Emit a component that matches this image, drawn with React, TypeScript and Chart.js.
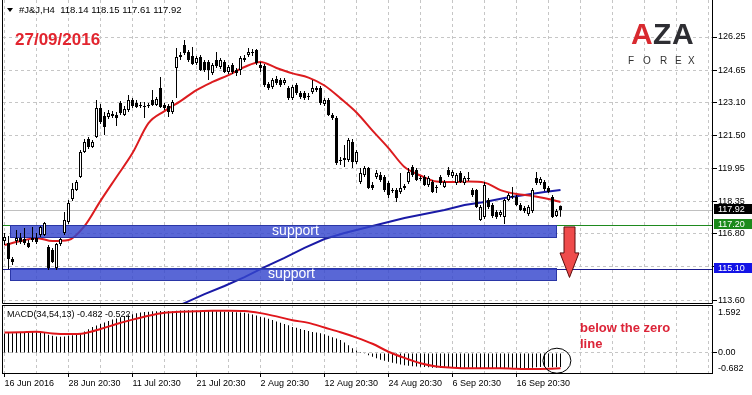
import React, { useEffect, useRef } from "react";
import { Chart, registerables } from "chart.js";

Chart.register(...registerables);

const FONT = '"Liberation Sans", Arial, Helvetica, sans-serif';

// ---------------- texts ----------------
const symbolTitle = "#J&J,H4";
const lastOHLC = ["118.14", "118.15", "117.61", "117.92"];
const dateNote = "27/09/2016";
const macdTitle = "MACD(34,54,13) -0.482 -0.522";
const noteLines = ["below the zero", "line"];
const supportLabel = "support";
const logoLetters = ["A", "Z", "A"];
const logoSub = ["F", "O", "R", "E", "X"];

// ---------------- axis labels ----------------
const timeLabels = [
  "16 Jun 2016",
  "28 Jun 20:30",
  "11 Jul 20:30",
  "21 Jul 20:30",
  "2 Aug 20:30",
  "12 Aug 20:30",
  "24 Aug 20:30",
  "6 Sep 20:30",
  "16 Sep 20:30",
];
const priceTicks = [113.6, 115.2, 116.8, 118.35, 119.95, 121.5, 123.1, 124.65, 126.25];
const priceTickText = ["113.60", "", "116.80", "118.35", "119.95", "121.50", "123.10", "124.65", "126.25"];
const macdTicks = [-0.682, 0, 1.592];
const macdTickText = ["-0.682", "0.00", "1.592"];

// ---------------- candles (H4 bars) ----------------
const openP = [
  116.44, 116.35, 115.58, 116.44, 116.59, 116.54, 116.35, 116.49, 116.59, 116.73,
  116.73, 116.15, 116.01, 115.14, 116.30, 116.83, 117.36, 118.46, 118.89, 119.52,
  120.72, 121.35, 120.96, 121.44, 122.84, 122.45, 122.40, 122.55, 122.50, 123.08,
  122.50, 122.74, 123.22, 123.08, 122.93, 122.93, 122.93, 123.22, 122.98, 123.80,
  122.98, 122.93, 122.64, 124.76, 125.29, 125.86, 125.53, 125.34, 125.00, 125.29,
  125.05, 125.05, 124.52, 125.14, 124.81, 125.05, 124.57, 124.90, 124.66, 124.66,
  125.14, 125.38, 125.53, 125.63, 124.90, 124.86, 123.99, 123.85, 124.23, 124.18,
  124.04, 123.80, 123.32, 123.94, 123.56, 123.56, 123.37, 123.61, 123.80, 123.80,
  123.03, 123.22, 122.50, 122.36, 120.34, 120.43, 120.34, 121.20, 120.24, 119.28,
  119.62, 119.95, 119.13, 119.52, 119.62, 119.52, 119.23, 118.89, 118.89, 118.80,
  118.99, 119.28, 120.00, 119.86, 119.47, 119.52, 119.13, 119.28, 119.04, 119.52,
  119.04, 119.86, 119.57, 119.23, 119.71, 119.23, 119.47, 118.89, 118.89, 117.45,
  117.60, 118.41, 118.17, 117.84, 117.69, 117.60, 118.41, 118.56, 118.56, 118.17,
  118.03, 117.74, 117.89, 119.47, 119.23, 119.28, 118.99, 118.56, 117.64, 118.14,
];
const highP = [
  116.83, 116.68, 115.67, 116.97, 116.83, 117.07, 116.49, 117.12, 116.83, 117.16,
  117.36, 116.25, 116.11, 116.35, 116.59, 117.84, 118.41, 119.23, 119.38, 120.82,
  121.35, 121.44, 121.30, 123.22, 123.03, 122.64, 122.74, 122.69, 122.64, 123.17,
  122.93, 123.46, 123.32, 123.22, 123.13, 123.13, 123.08, 123.70, 123.37, 124.33,
  123.08, 123.03, 123.22, 125.72, 125.53, 126.11, 125.63, 125.77, 125.34, 125.38,
  125.14, 125.14, 125.00, 125.53, 125.24, 125.14, 124.90, 125.00, 124.76, 125.34,
  125.38, 125.72, 125.67, 125.67, 125.05, 124.95, 124.09, 124.28, 124.38, 124.28,
  124.28, 123.89, 123.94, 124.04, 123.65, 123.65, 123.56, 124.18, 123.89, 123.89,
  123.32, 123.32, 122.60, 122.45, 120.48, 121.06, 121.39, 121.35, 120.82, 119.95,
  120.05, 120.00, 119.28, 119.86, 119.76, 119.62, 119.33, 118.99, 118.99, 119.71,
  119.18, 119.95, 120.10, 119.95, 119.57, 119.62, 119.57, 119.38, 119.13, 119.62,
  119.38, 120.00, 119.86, 119.71, 119.81, 119.57, 119.76, 118.99, 118.94, 118.17,
  119.28, 118.51, 118.27, 117.93, 117.93, 118.46, 118.75, 119.04, 118.65, 118.27,
  118.13, 118.17, 118.99, 119.76, 119.52, 119.38, 119.09, 118.65, 117.98, 118.15,
];
const lowP = [
  116.25, 115.10, 115.29, 116.25, 116.30, 116.25, 116.11, 116.39, 116.30, 116.63,
  116.68, 115.05, 115.38, 115.05, 116.20, 116.73, 117.26, 118.37, 118.85, 119.47,
  120.67, 120.87, 120.91, 121.39, 122.07, 121.54, 122.31, 122.36, 121.97, 122.50,
  122.45, 122.64, 122.84, 122.84, 122.84, 122.36, 122.84, 122.93, 122.93, 122.84,
  122.74, 122.40, 122.55, 123.32, 125.14, 125.38, 125.05, 124.90, 124.90, 124.62,
  124.57, 124.18, 124.42, 124.76, 124.71, 124.52, 124.47, 124.47, 124.38, 124.42,
  125.05, 125.29, 125.34, 124.90, 124.57, 123.85, 123.70, 123.75, 123.94, 123.85,
  123.94, 123.22, 123.22, 123.46, 123.27, 123.22, 123.22, 123.51, 123.61, 122.98,
  122.93, 122.45, 122.26, 120.10, 120.10, 120.00, 120.24, 119.95, 120.14, 119.18,
  119.52, 118.94, 118.89, 119.42, 119.28, 118.80, 118.51, 118.75, 118.32, 118.70,
  118.89, 119.18, 119.52, 119.33, 119.33, 119.09, 119.04, 118.75, 118.75, 119.13,
  118.99, 119.52, 119.47, 119.13, 119.23, 119.13, 119.33, 118.56, 118.03, 117.40,
  117.50, 117.98, 117.55, 117.50, 117.60, 117.26, 118.37, 118.46, 118.13, 117.89,
  117.79, 117.64, 117.79, 119.13, 119.13, 118.85, 118.75, 117.55, 117.60, 117.61,
];
const closeP = [
  116.63, 115.58, 115.43, 116.59, 116.39, 116.35, 116.15, 116.59, 116.39, 117.12,
  117.31, 115.14, 115.43, 116.30, 116.54, 117.45, 118.27, 118.94, 119.28, 120.72,
  121.20, 120.96, 121.20, 122.84, 122.16, 121.92, 122.60, 122.45, 122.36, 122.60,
  122.79, 123.22, 122.93, 122.88, 122.98, 122.88, 122.98, 122.98, 123.27, 122.88,
  122.84, 122.64, 123.13, 125.29, 125.38, 125.48, 125.14, 124.95, 125.24, 124.66,
  124.66, 124.66, 124.90, 124.86, 125.14, 124.57, 124.81, 124.57, 124.52, 125.24,
  125.24, 125.53, 125.48, 125.00, 124.76, 123.94, 123.80, 124.18, 124.04, 123.94,
  124.18, 123.32, 123.85, 123.56, 123.37, 123.32, 123.41, 123.80, 123.70, 123.08,
  123.22, 122.50, 122.36, 120.19, 120.29, 120.34, 121.30, 120.24, 120.72, 119.71,
  119.95, 118.99, 118.99, 119.71, 119.38, 118.89, 118.65, 118.85, 118.51, 118.99,
  119.09, 119.76, 119.62, 119.38, 119.42, 119.13, 119.47, 118.80, 118.99, 119.23,
  119.28, 119.62, 119.76, 119.62, 119.28, 119.47, 119.42, 118.65, 118.08, 118.08,
  119.13, 118.08, 117.64, 117.60, 117.84, 118.41, 118.65, 118.61, 118.17, 117.93,
  117.89, 118.08, 118.89, 119.23, 119.42, 118.94, 118.80, 117.60, 117.89, 117.92,
];

// ---------------- moving averages (read at every 4th / 5th bar) ----------------
const maFastBars = [0, 4, 8, 12, 16, 20, 24, 28, 32, 36, 40, 44, 48, 52, 56, 60, 64, 68, 72, 76, 80, 84, 88, 92, 96, 100, 104, 108, 112, 116, 120, 124, 128, 132, 136, 139];
const maFastVals = [116.25, 116.44, 116.59, 116.44, 116.49, 117.16, 118.37, 119.52, 120.67, 122.11, 122.69, 123.17, 123.70, 124.09, 124.42, 124.81, 125.05, 124.76, 124.50, 124.30, 123.92, 123.30, 122.62, 121.75, 120.91, 120.00, 119.59, 119.30, 119.28, 119.30, 119.25, 118.89, 118.70, 118.61, 118.46, 118.32];
const maSlowBars = [40, 45, 50, 55, 60, 65, 70, 75, 80, 85, 90, 95, 100, 105, 110, 115, 120, 125, 130, 135, 139];
const maSlowVals = [113.03, 113.46, 113.89, 114.28, 114.71, 115.19, 115.63, 116.11, 116.54, 116.83, 117.07, 117.31, 117.55, 117.74, 117.93, 118.17, 118.32, 118.51, 118.65, 118.80, 118.89];

// ---------------- MACD ----------------
const macdHist = [
  0.66, 0.68, 0.67, 0.69, 0.70, 0.69, 0.70, 0.71, 0.70, 0.69,
  0.68, 0.62, 0.58, 0.56, 0.55, 0.56, 0.58, 0.60, 0.62, 0.66,
  0.73, 0.80, 0.88, 0.93, 0.98, 1.03, 1.08, 1.13, 1.17, 1.21,
  1.24, 1.28, 1.31, 1.35, 1.37, 1.39, 1.40, 1.41, 1.41, 1.42,
  1.42, 1.42, 1.41, 1.43, 1.44, 1.45, 1.45, 1.45, 1.44, 1.44,
  1.43, 1.42, 1.42, 1.41, 1.41, 1.40, 1.39, 1.39, 1.38, 1.37,
  1.36, 1.34, 1.30, 1.27, 1.23, 1.20, 1.16, 1.12, 1.07, 1.02,
  0.98, 0.94, 0.88, 0.85, 0.81, 0.78, 0.74, 0.71, 0.69, 0.67,
  0.63, 0.58, 0.53, 0.49, 0.44, 0.35, 0.26, 0.16, 0.08, 0.03,
  -0.03, -0.08, -0.13, -0.18, -0.23, -0.27, -0.30, -0.33, -0.36, -0.39,
  -0.42, -0.44, -0.45, -0.46, -0.47, -0.48, -0.49, -0.50, -0.50, -0.51,
  -0.51, -0.50, -0.50, -0.51, -0.51, -0.50, -0.50, -0.50, -0.51, -0.52,
  -0.52, -0.51, -0.51, -0.52, -0.52, -0.51, -0.50, -0.50, -0.51, -0.51,
  -0.51, -0.51, -0.50, -0.49, -0.48, -0.48, -0.48, -0.49, -0.49, -0.482,
];
const signalBars = [0, 4, 8, 12, 16, 20, 24, 28, 32, 36, 40, 44, 48, 52, 56, 60, 64, 68, 72, 76, 80, 84, 88, 92, 96, 100, 104, 108, 112, 116, 120, 124, 128, 132, 136, 139];
const signalVals = [0.69, 0.70, 0.72, 0.66, 0.64, 0.67, 0.81, 0.98, 1.13, 1.26, 1.36, 1.40, 1.41, 1.43, 1.43, 1.42, 1.35, 1.24, 1.11, 1.02, 0.86, 0.70, 0.52, 0.31, 0.04, -0.17, -0.35, -0.46, -0.50, -0.52, -0.52, -0.52, -0.54, -0.55, -0.54, -0.522];

// ---------------- levels & annotations ----------------
const levelBid = 117.92;
const levelGreen = 117.2;
const levelBlue = 115.1;
const supportZones = [
  { fromBar: 1.25, toBar: 138, top: 117.21, bottom: 116.59, textBar: 66.9 },
  { fromBar: 1.25, toBar: 138, top: 115.14, bottom: 114.52, textBar: 65.9 },
];
const arrowBar = 141.25;
const arrowFrom = 117.12;
const arrowNeck = 115.87;
const arrowTip = 114.69;
const circleBar = 138.1;
const circleVal = -0.265;

// ---------------- scale geometry ----------------
const X_MIN = -0.375;
const X_MAX = 177.125;
const PRICE_MIN = 113.462;
const PRICE_MAX = 128.029;
const MACD_MIN = -0.682;
const MACD_MAX = 1.626;
const gridBars = Array.from({ length: 23 }, (_, k) => k * 8);

const GRID = "#c6c6c6";

function xScale(showLabels: boolean) {
  return {
    type: "linear",
    min: X_MIN,
    max: X_MAX,
    bounds: "data",
    offset: false,
    afterBuildTicks: (s: any) => {
      s.ticks = gridBars.map((v) => ({ value: v }));
    },
    afterFit: (s: any) => {
      s.height = showLabels ? 22 : 0;
      s.paddingLeft = 0;
      s.paddingRight = 0;
    },
    border: { display: false, dash: [3, 3] },
    grid: {
      display: true,
      offset: false,
      drawOnChartArea: true,
      color: GRID,
      lineWidth: 1,
      drawTicks: showLabels,
      tickLength: 4,
      tickColor: (c: any) => {
        const v = c.tick ? c.tick.value : -1;
        return v % 16 === 0 && v / 16 < timeLabels.length ? "#000" : "rgba(0,0,0,0)";
      },
    },
    ticks: {
      display: showLabels,
      autoSkip: false,
      maxRotation: 0,
      minRotation: 0,
      align: "start",
      padding: 1,
      color: "#000",
      font: { family: FONT, size: 9 },
      callback: (v: number) => (v % 16 === 0 && timeLabels[v / 16] ? timeLabels[v / 16] : ""),
    },
  };
}

const mainDecor = {
  id: "mainDecor",
  beforeDatasetsDraw(chart: any) {
    const { ctx, chartArea: a, scales } = chart;
    const y = scales.y;
    ctx.save();
    const hline = (p: number, color: string) => {
      const py = Math.round(y.getPixelForValue(p)) + 0.5;
      ctx.strokeStyle = color;
      ctx.lineWidth = 1;
      ctx.beginPath();
      ctx.moveTo(a.left, py);
      ctx.lineTo(a.right, py);
      ctx.stroke();
    };
    hline(levelBid, "#c0c0c0");
    hline(levelGreen, "#1e8a1e");
    hline(levelBlue, "#1c1c8e");
    ctx.restore();
  },
  beforeDatasetDraw(chart: any, args: any) {
    if (args.index !== 2) return;
    const { ctx, scales } = chart;
    const x = scales.x;
    const y = scales.y;
    ctx.save();
    for (const z of supportZones) {
      const x1 = Math.round(x.getPixelForValue(z.fromBar));
      const x2 = Math.round(x.getPixelForValue(z.toBar));
      const y1 = Math.round(y.getPixelForValue(z.top));
      const y2 = Math.round(y.getPixelForValue(z.bottom));
      ctx.fillStyle = "rgba(52,70,205,0.82)";
      ctx.fillRect(x1, y1, x2 - x1, y2 - y1);
      ctx.strokeStyle = "#2a36a6";
      ctx.lineWidth = 1;
      ctx.strokeRect(x1 + 0.5, y1 + 0.5, x2 - x1 - 1, y2 - y1 - 1);
      ctx.fillStyle = "#ffffff";
      ctx.font = `14px ${FONT}`;
      ctx.textAlign = "left";
      ctx.textBaseline = "middle";
      ctx.fillText(supportLabel, x.getPixelForValue(z.textBar), (y1 + y2) / 2);
    }
    ctx.restore();
  },
  afterDraw(chart: any) {
    const { ctx, chartArea: a, scales } = chart;
    const x = scales.x;
    const y = scales.y;
    ctx.save();
    // frame
    ctx.strokeStyle = "#000";
    ctx.lineWidth = 1;
    ctx.beginPath();
    ctx.moveTo(a.left - 0.5, 0);
    ctx.lineTo(a.left - 0.5, a.bottom + 0.5);
    ctx.lineTo(a.right - 0.5, a.bottom + 0.5);
    ctx.lineTo(a.right - 0.5, 0);
    ctx.stroke();

    // header
    ctx.fillStyle = "#000";
    ctx.beginPath();
    ctx.moveTo(7, 8);
    ctx.lineTo(13, 8);
    ctx.lineTo(10, 12);
    ctx.closePath();
    ctx.fill();
    ctx.font = `9.5px ${FONT}`;
    ctx.textAlign = "left";
    ctx.textBaseline = "middle";
    ctx.fillText(`${symbolTitle}  ${lastOHLC.join(" ")}`, 19, 10.5);

    // date
    ctx.font = `bold 17px ${FONT}`;
    ctx.fillStyle = "#e2252f";
    ctx.textBaseline = "alphabetic";
    ctx.fillText(dateNote, 15, 45);

    // logo
    ctx.font = `bold 30px ${FONT}`;
    ctx.fillStyle = "#d8292f";
    ctx.fillText(logoLetters[0], 631, 44);
    ctx.fillStyle = "#2e2e33";
    ctx.fillText(logoLetters[1], 653, 44);
    ctx.fillText(logoLetters[2], 672, 44);
    ctx.font = `10px ${FONT}`;
    ctx.fillStyle = "#333";
    const subX = [628, 643, 660, 675, 688];
    logoSub.forEach((c, k) => ctx.fillText(c, subX[k], 64));

    // arrow
    const ax = x.getPixelForValue(arrowBar);
    const ay1 = y.getPixelForValue(arrowFrom);
    const ay2 = y.getPixelForValue(arrowNeck);
    const ay3 = y.getPixelForValue(arrowTip);
    ctx.beginPath();
    ctx.moveTo(ax - 5.5, ay1);
    ctx.lineTo(ax + 5.5, ay1);
    ctx.lineTo(ax + 5.5, ay2);
    ctx.lineTo(ax + 9.5, ay2);
    ctx.lineTo(ax, ay3);
    ctx.lineTo(ax - 9.5, ay2);
    ctx.lineTo(ax - 5.5, ay2);
    ctx.closePath();
    ctx.fillStyle = "#ef4b4b";
    ctx.fill();
    ctx.strokeStyle = "#5a0c0c";
    ctx.stroke();

    // price tags on the axis
    const tag = (p: number, bg: string) => {
      const py = Math.round(y.getPixelForValue(p)) - 1;
      ctx.fillStyle = bg;
      ctx.fillRect(a.right + 1, py - 5, 752 - a.right - 1, 10);
      ctx.fillStyle = "#fff";
      ctx.font = `9px ${FONT}`;
      ctx.textBaseline = "middle";
      ctx.textAlign = "left";
      ctx.fillText(p.toFixed(2), a.right + 5, py + 0.5);
    };
    tag(levelBid, "#000000");
    tag(levelGreen, "#1b8a1b");
    tag(levelBlue, "#1414e6");
    ctx.restore();
  },
};

const macdDecor = {
  id: "macdDecor",
  afterDraw(chart: any) {
    const { ctx, chartArea: a, scales } = chart;
    const x = scales.x;
    const y = scales.y;
    ctx.save();
    ctx.strokeStyle = "#000";
    ctx.lineWidth = 1;
    ctx.strokeRect(a.left - 0.5, a.top + 0.5, a.right - a.left, a.bottom - a.top);

    ctx.fillStyle = "#000";
    ctx.font = `9px ${FONT}`;
    ctx.textAlign = "left";
    ctx.textBaseline = "middle";
    ctx.fillText(macdTitle, 7, 11);

    // axis labels (MT4 keeps the extreme labels inside the pane)
    const offs = [-4.5, 0, 7];
    macdTicks.forEach((v, k) => {
      ctx.fillText(macdTickText[k], a.right + 5, y.getPixelForValue(v) + offs[k]);
    });

    ctx.fillStyle = "#dc2438";
    ctx.font = `bold 13px ${FONT}`;
    ctx.textBaseline = "alphabetic";
    ctx.fillText(noteLines[0], 580, 28);
    ctx.fillText(noteLines[1], 580, 44);

    ctx.strokeStyle = "#000";
    ctx.beginPath();
    ctx.ellipse(x.getPixelForValue(circleBar), y.getPixelForValue(circleVal), 14, 12.5, 0, 0, Math.PI * 2);
    ctx.stroke();
    ctx.restore();
  },
};

export default function App() {
  const refA = useRef<HTMLCanvasElement>(null);
  const refB = useRef<HTMLCanvasElement>(null);

  useEffect(() => {
    const idx = openP.map((_, i) => i);

    const cfgA: any = {
      type: "bar",
      data: {
        datasets: [
          {
            type: "line",
            label: "MA slow",
            data: maSlowBars.map((b, k) => ({ x: b, y: maSlowVals[k] })),
            borderColor: "#1a1aa6",
            borderWidth: 2,
            pointRadius: 0,
            tension: 0,
            order: 6,
          },
          {
            type: "line",
            label: "MA fast",
            data: maFastBars.map((b, k) => ({ x: b, y: maFastVals[k] })),
            borderColor: "#dc1c1f",
            borderWidth: 2,
            pointRadius: 0,
            cubicInterpolationMode: "monotone",
            order: 5,
          },
          {
            type: "bar",
            label: "wick",
            data: idx.map((i) => ({ x: i, y: [lowP[i], highP[i]] })),
            backgroundColor: "#000",
            borderWidth: 0,
            barThickness: 1,
            grouped: false,
            inflateAmount: 0,
            order: 2,
          },
          {
            type: "bar",
            label: "body",
            data: idx.map((i) => ({ x: i, y: [openP[i], closeP[i]] })),
            backgroundColor: idx.map((i) => (closeP[i] >= openP[i] ? "#ffffff" : "#000000")),
            borderColor: "#000",
            borderWidth: 1,
            borderSkipped: false,
            barThickness: 3,
            grouped: false,
            inflateAmount: 0,
            order: 1,
          },
        ],
      },
      options: {
        animation: false,
        responsive: false,
        devicePixelRatio: 1,
        events: [],
        layout: { padding: { left: 3, right: 0, top: 0, bottom: 1 } },
        plugins: { legend: { display: false }, tooltip: { enabled: false } },
        scales: {
          x: xScale(false),
          y: {
            type: "linear",
            position: "right",
            min: PRICE_MIN,
            max: PRICE_MAX,
            bounds: "data",
            stacked: false,
            afterBuildTicks: (s: any) => {
              s.ticks = priceTicks.map((v) => ({ value: v }));
            },
            afterFit: (s: any) => {
              s.width = 39;
              s.paddingTop = 0;
              s.paddingBottom = 0;
            },
            border: { display: false, dash: [3, 3] },
            grid: { color: GRID, lineWidth: 1, drawTicks: true, tickLength: 4, tickColor: "#000" },
            ticks: {
              autoSkip: false,
              padding: 1,
              color: "#000",
              font: { family: FONT, size: 9 },
              callback: (v: number) => {
                const k = priceTicks.indexOf(v);
                return k >= 0 ? priceTickText[k] : "";
              },
            },
          },
        },
      },
      plugins: [mainDecor],
    };

    const cfgB: any = {
      type: "bar",
      data: {
        datasets: [
          {
            type: "bar",
            label: "MACD",
            data: idx.map((i) => ({ x: i, y: macdHist[i] })),
            backgroundColor: "#000",
            borderWidth: 0,
            barThickness: 1,
            grouped: false,
            inflateAmount: 0,
            order: 2,
          },
          {
            type: "line",
            label: "Signal",
            data: signalBars.map((b, k) => ({ x: b, y: signalVals[k] })),
            borderColor: "#e0161b",
            borderWidth: 2,
            pointRadius: 0,
            cubicInterpolationMode: "monotone",
            order: 1,
          },
        ],
      },
      options: {
        animation: false,
        responsive: false,
        devicePixelRatio: 1,
        events: [],
        layout: { padding: { left: 3, right: 0, top: 1, bottom: 0 } },
        plugins: { legend: { display: false }, tooltip: { enabled: false } },
        scales: {
          x: xScale(true),
          y: {
            type: "linear",
            position: "right",
            min: MACD_MIN,
            max: MACD_MAX,
            bounds: "data",
            stacked: false,
            afterBuildTicks: (s: any) => {
              s.ticks = macdTicks.map((v) => ({ value: v }));
            },
            afterFit: (s: any) => {
              s.width = 39;
              s.paddingTop = 0;
              s.paddingBottom = 0;
            },
            border: { display: false, dash: [3, 3] },
            grid: {
              color: (c: any) => (c.tick && c.tick.value === 0 ? GRID : "rgba(0,0,0,0)"),
              lineWidth: 1,
              drawTicks: true,
              tickLength: 4,
              tickColor: (c: any) => (c.tick && c.tick.value === 0 ? "#000" : "rgba(0,0,0,0)"),
            },
            ticks: { display: false },
          },
        },
      },
      plugins: [macdDecor],
    };

    const chartA = new Chart(refA.current as HTMLCanvasElement, cfgA);
    const chartB = new Chart(refB.current as HTMLCanvasElement, cfgB);
    return () => {
      chartA.destroy();
      chartB.destroy();
    };
  }, []);

  return (
    <div style={{ position: "fixed", left: 0, top: 0, width: 752, height: 395, background: "#fff" }}>
      <canvas
        ref={refA}
        width={752}
        height={304}
        style={{ position: "absolute", left: 0, top: 0, width: 752, height: 304, display: "block" }}
      />
      <canvas
        ref={refB}
        width={752}
        height={91}
        style={{ position: "absolute", left: 0, top: 304, width: 752, height: 91, display: "block" }}
      />
    </div>
  );
}
